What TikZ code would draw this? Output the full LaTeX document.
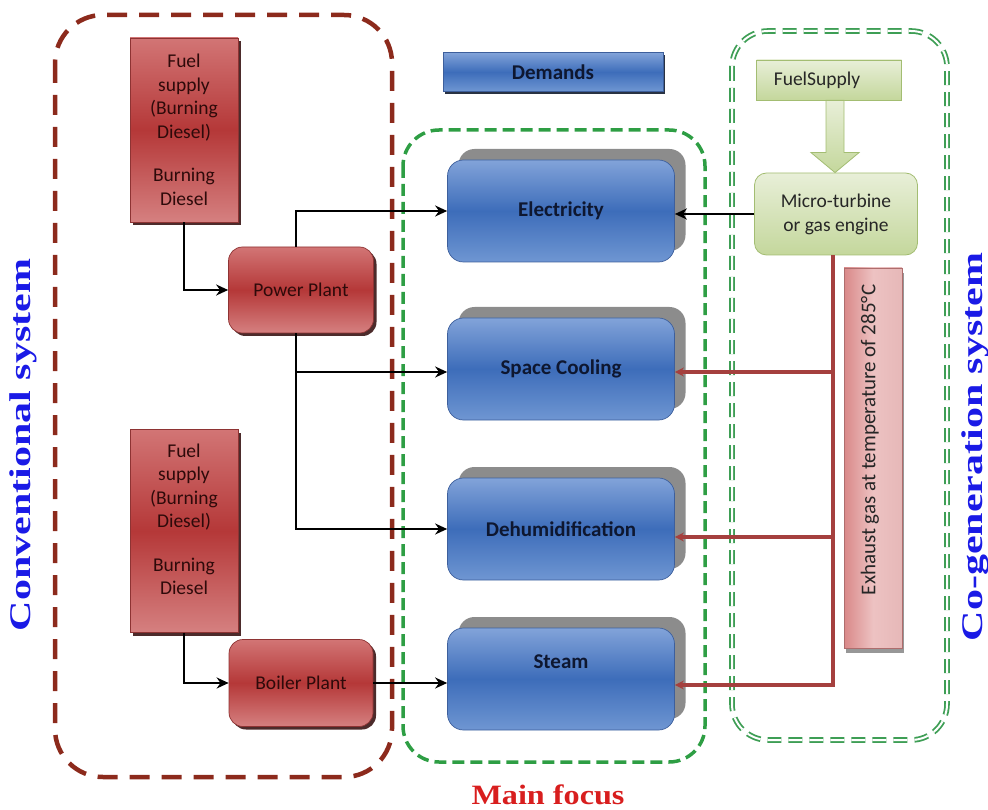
\documentclass[tikz,border=0pt]{standalone}
\usepackage{fontspec}
\setmainfont{Carlito}
\newfontfamily\tnr{Liberation Serif}
\usetikzlibrary{calc,shadows,arrows.meta}
\definecolor{convred}{HTML}{8C2A1C}
\definecolor{focusgreen}{HTML}{2E9E44}
\definecolor{cogreen}{HTML}{3E9E55}
\definecolor{rtop}{HTML}{D27575}
\definecolor{rmid}{HTML}{B53838}
\definecolor{rbot}{HTML}{D58080}
\definecolor{rbord}{HTML}{8E3333}
\definecolor{btop}{HTML}{82A3D9}
\definecolor{bmid}{HTML}{3D6DBA}
\definecolor{bbot}{HTML}{6F96D2}
\definecolor{bbord}{HTML}{3D5F9C}
\definecolor{gtop}{HTML}{E8EFD8}
\definecolor{gbot}{HTML}{C4D79C}
\definecolor{gbord}{HTML}{A3BD72}
\definecolor{labelblue}{HTML}{1A1AE6}
\definecolor{labelred}{HTML}{D81E1E}
\definecolor{exline}{HTML}{A5403E}
\definecolor{txtred}{HTML}{2E0A0A}
\definecolor{txtblue}{HTML}{0E1730}
\definecolor{exleft}{HTML}{D98888}
\definecolor{exmid}{HTML}{EDC2C2}
\definecolor{exright}{HTML}{E6B8B8}
\tikzset{
  convbox/.style={draw=convred, line width=4.5pt, dash pattern=on 20pt off 12pt, rounded corners=48pt},
  focusbox/.style={draw=focusgreen, line width=3.5pt, dash pattern=on 12pt off 6pt, rounded corners=36pt},
  cobox/.style={draw=cogreen, line width=1.8pt, double=white, double distance=2pt, dash pattern=on 14pt off 7pt, rounded corners=36pt},
  redbox/.style={draw=rbord, line width=0.7pt, top color=rtop, bottom color=rbot, middle color=rmid,
    text=txtred, align=center, inner sep=0pt, font=\fontsize{19.5}{23.5}\selectfont,
    drop shadow={shadow xshift=3pt, shadow yshift=-3pt, fill=black!60!rbord, opacity=0.9}},
  blubox/.style={draw=bbord, line width=0.7pt, top color=btop, bottom color=bbot, middle color=bmid,
    text=txtblue, font=\fontsize{21}{25}\selectfont\bfseries, rounded corners=16pt,
    minimum width=227pt, minimum height=102pt, inner sep=0pt,
    drop shadow={shadow xshift=11pt, shadow yshift=11pt, fill=black!45, opacity=1}},
  bluetext/.style={text=txtblue, font=\fontsize{21}{25}\selectfont\bfseries, inner sep=0pt},
  demandbox/.style={draw=bbord, line width=0.7pt, top color=btop, bottom color=bbot, middle color=bmid,
    text=txtblue, font=\fontsize{21}{25}\selectfont\bfseries, minimum width=220pt, minimum height=39pt, inner sep=0pt,
    drop shadow={shadow xshift=2pt, shadow yshift=-3pt, fill=black!70!bbord, opacity=0.9}},
  gbox/.style={draw=gbord, line width=0.8pt, top color=gtop, bottom color=gbot, text=black!85,
    align=center, inner sep=0pt, font=\fontsize{19.5}{24}\selectfont},
  gtext/.style={text=black!85, font=\fontsize{19.5}{24}\selectfont, inner sep=0pt},
  exbox/.style={draw=exleft!80!black, line width=0.6pt, left color=exleft, right color=exright, middle color=exmid,
    inner sep=0pt, drop shadow={shadow xshift=2pt, shadow yshift=-5pt, fill=black!45, opacity=0.9}},
  extext/.style={text=black!85, font=\fontsize{21}{25}\selectfont, inner sep=0pt},
  biglabel/.style={font=\tnr\bfseries\fontsize{30}{34}\selectfont, inner sep=0pt},
  barrow/.style={line width=2.8pt, draw=black, -{Stealth[length=12pt,width=11pt]}},
  rarrow/.style={line width=3.2pt, draw=exline, -{Stealth[length=9pt,width=9pt]}},
  harrow/.style={draw=gbord, line width=0.8pt, top color=gtop, bottom color=gbot}
}
\begin{document}
\begin{tikzpicture}[x=1pt,y=-1pt]
\useasboundingbox (0,0) rectangle (988,810);
% regions
\draw[convbox] (55,15) rectangle (392,777);
\draw[focusbox] (403,130) rectangle (705,762);
\draw[cobox] (732,31) rectangle (947,740);
% conventional system
\node[redbox, minimum width=108pt, minimum height=184pt] (fuel1) at (184,130)
  {Fuel\\supply\\(Burning\\Diesel)\\[20pt]Burning\\Diesel};
\node[redbox, rounded corners=14pt, minimum width=145pt, minimum height=86pt] (pp) at (301,290) {Power Plant};
\node[redbox, minimum width=108pt, minimum height=203pt] (fuel2) at (184,531)
  {Fuel\\supply\\(Burning\\Diesel)\\[20pt]Burning\\Diesel\\~};
\node[redbox, rounded corners=14pt, minimum width=144pt, minimum height=87pt] (bp) at (301,683) {Boiler Plant};
% demands
\node[demandbox] (dem) at (553,72) {Demands};
\node[blubox] (elec) at (561,211) {Electricity};
\node[blubox] (cool) at (561,369) {Space Cooling};
\node[blubox] (dehum) at (561,529) {Dehumidification};
\node[blubox] (steam) at (561,679) {};
\node[bluetext] (steamtext) at ($(steam.center)+(0,-17)$) {Steam};
% co-generation
\node[gbox, minimum width=145pt, minimum height=40pt] (fs) at (829,80) {};
\node[gtext] (fstext) at ($(fs.center)+(-12,0)$) {FuelSupply};
\node[gbox, rounded corners=12pt, minimum width=163pt, minimum height=82pt] (mt) at (836,214) {Micro-turbine\\or gas engine};
\node[exbox, minimum width=58pt, minimum height=380pt] (ex) at (873,458) {};
\node[extext, rotate=90] (exlabel) at (870,440) {Exhaust gas at temperature of 285°C};
% hollow arrow
\coordinate (tip) at ($(mt.north)+(-1,0)$);
\draw[harrow] ($(tip |- fs.south)+(-9,0)$) -- ($(tip |- fs.south)+(9,0)$) -- ($(tip)+(9,-20)$)
  -- ($(tip)+(24,-20)$) -- (tip) -- ($(tip)+(-24,-20)$) -- ($(tip)+(-9,-20)$) -- cycle;
% labels
\node[biglabel, text=labelblue, rotate=90] (conv) at (23,445) {\scalebox{1.4}[1]{Conventional system}};
\node[biglabel, text=labelblue, rotate=90] (cogen) at (975,447) {\scalebox{1.4}[1]{Co-generation system}};
\node[biglabel, text=labelred, font=\tnr\bfseries\fontsize{28}{32}\selectfont] (mf) at (548,795) {\scalebox{1.15}[1]{Main focus}};
% black connectors
\draw[barrow] (fuel1.south) |- (pp.west);
\draw[barrow] ($(pp.north)+(-5,0)$) |- (elec.west);
\coordinate (ppb) at ($(pp.south)+(-5,0)$);
\draw[barrow] (ppb) |- ($(cool.west)+(0,3)$);
\draw[barrow] (ppb) |- (dehum.west);
\draw[barrow] (fuel2.south) |- (bp.west);
\draw[barrow] (bp.east) -- (bp.east -| steam.west);
\draw[barrow] (mt.west) -- (mt.west -| elec.east);
% exhaust connectors
\coordinate (rl) at ($(mt.south)+(-3,0)$);
\coordinate (ca) at ($(cool.east)+(0,3)$);
\coordinate (da) at ($(dehum.east)+(0,8)$);
\coordinate (sa) at ($(steam.east)+(0,6)$);
\draw[rarrow] (rl) |- (sa);
\draw[rarrow] (rl |- ca) -- (ca);
\draw[rarrow] (rl |- da) -- (da);
\end{tikzpicture}
\end{document}
